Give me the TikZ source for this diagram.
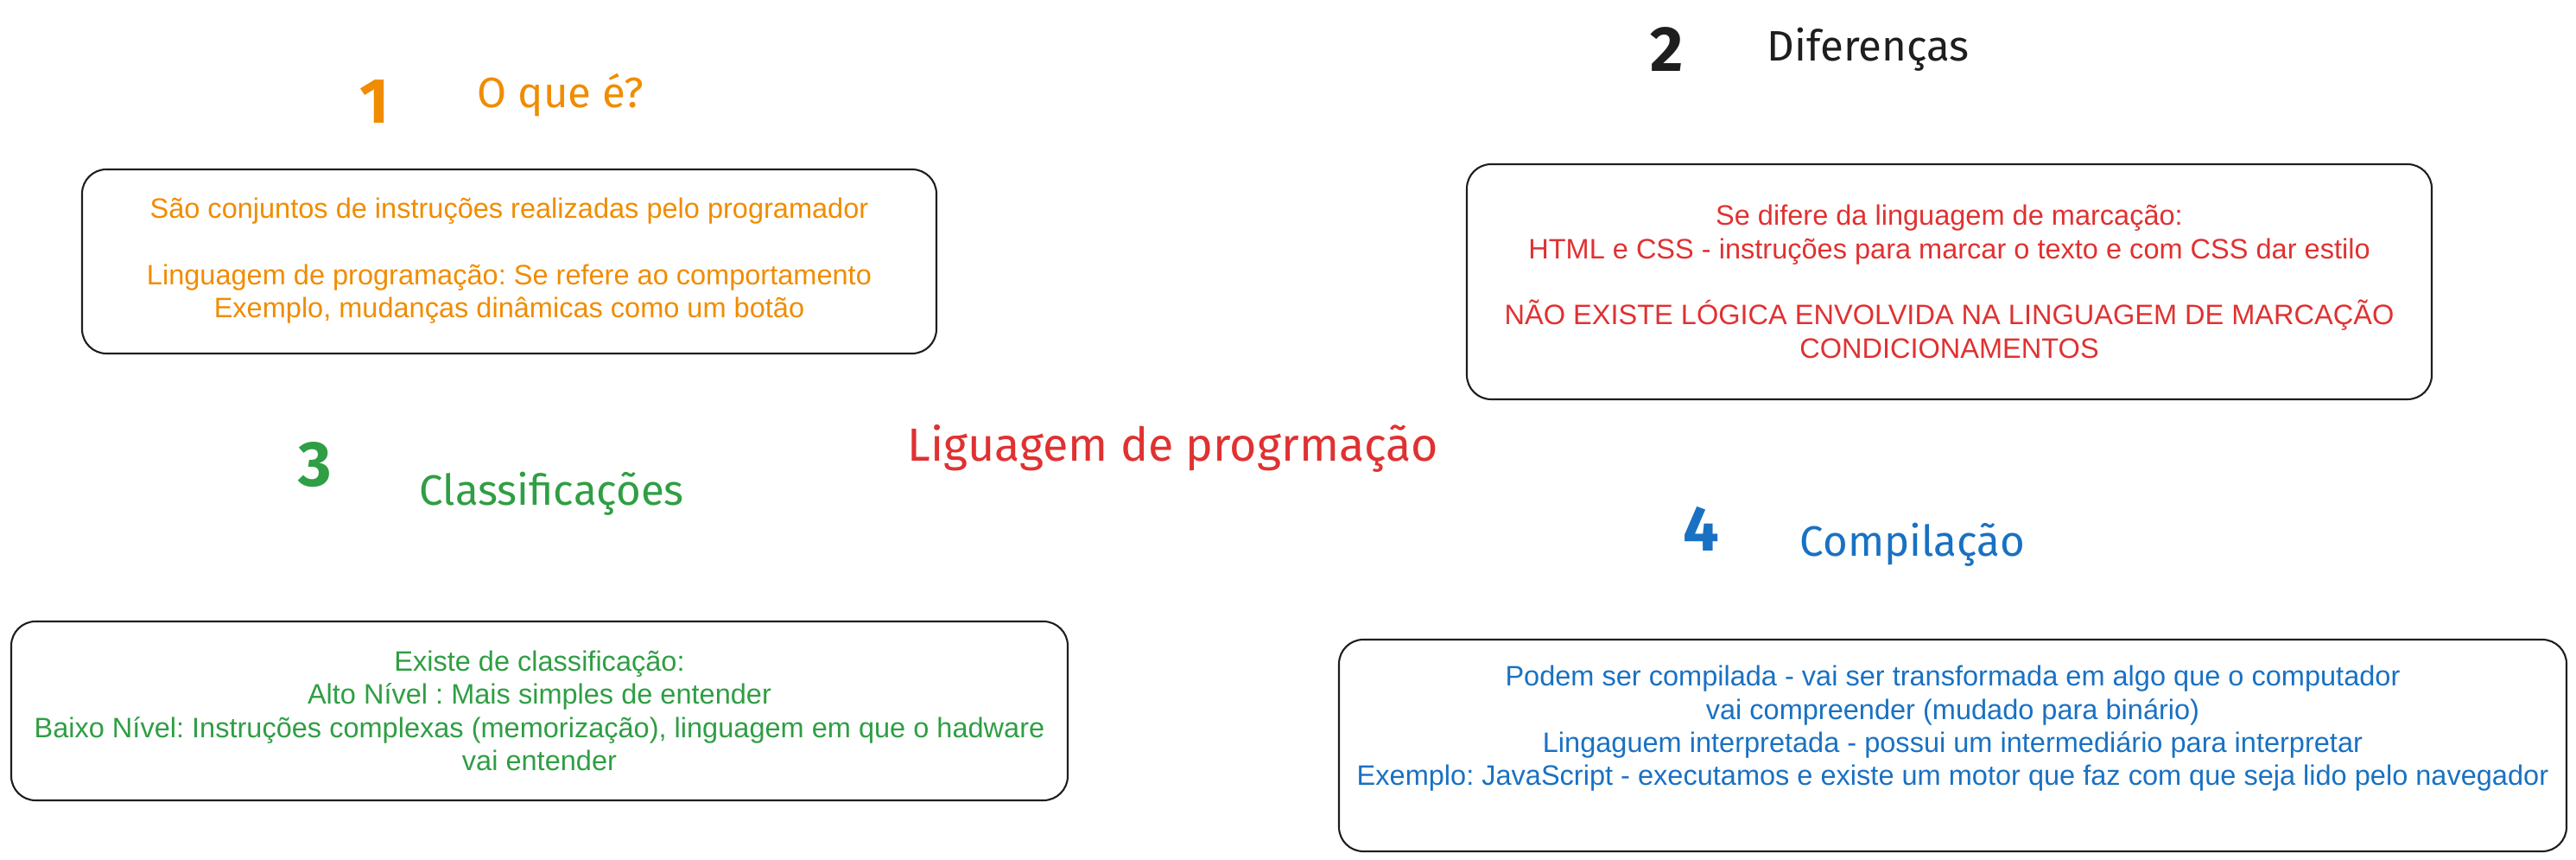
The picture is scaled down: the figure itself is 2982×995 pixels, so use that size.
\documentclass[tikz,border=0pt]{standalone}
\usepackage{fontspec}
\setmainfont{Liberation Sans}
\newfontfamily\handfont{Fira Sans}
\frenchspacing
\definecolor{exorange}{HTML}{F08C00}
\definecolor{exred}{HTML}{E03131}
\definecolor{exgreen}{HTML}{2F9E44}
\definecolor{exblue}{HTML}{1971C2}
\definecolor{exblack}{HTML}{1E1E1E}
\begin{document}
\begin{tikzpicture}[x=0.01cm,y=-0.01cm,
  boxline/.style={draw=exblack,line width=0.6pt,rounded corners=8pt},
  body/.style={align=center,inner sep=0pt,font=\fontsize{9.25}{10.9}\selectfont},
  numlabel/.style={inner sep=0pt,font=\handfont\bfseries\fontsize{21}{24}\selectfont},
  titlelabel/.style={inner sep=0pt,anchor=west,font=\handfont\fontsize{14}{16}\selectfont},
  mainlabel/.style={inner sep=0pt,font=\handfont\fontsize{15.3}{18}\selectfont}]
\useasboundingbox (0,0) rectangle (2982,995);
% section 1
\node[numlabel,text=exorange] (n1) at (434,118) {1};
\node[titlelabel,text=exorange] (t1) at (552,110) {O que é?};
\path[boxline] (95,196) rectangle (1084,409);
\coordinate (b1) at (589.5,302);
\node[body,text=exorange] (x1) at (b1) {São conjuntos de instruções realizadas pelo programador\\[10.9pt]
Linguagem de programação: Se refere ao comportamento\\
Exemplo, mudanças dinâmicas como um botão};
% section 2
\node[numlabel,text=exblack] (n2) at (1930,57) {2};
\node[titlelabel,text=exblack] (t2) at (2045,57) {Diferenças};
\path[boxline] (1698,190) rectangle (2815,462);
\coordinate (b2) at (2256.5,326);
\node[body,text=exred] (x2) at (b2) {Se difere da linguagem de marcação:\\
HTML e CSS - instruções para marcar o texto e com CSS dar estilo\\[10.9pt]
NÃO EXISTE LÓGICA ENVOLVIDA NA LINGUAGEM DE MARCAÇÃO\\
CONDICIONAMENTOS};
% central title
\node[mainlabel,text=exred] (main) at (1358,519) {Liguagem de progrmação};
% section 3
\node[numlabel,text=exgreen] (n3) at (365,538) {3};
\node[titlelabel,text=exgreen] (t3) at (485,571) {Classificações};
\path[boxline] (13,719) rectangle (1236,926);
\coordinate (b3) at (624.5,822.5);
\node[body,text=exgreen] (x3) at (b3) {Existe de classificação:\\
Alto Nível : Mais simples de entender\\
Baixo Nível: Instruções complexas (memorização), linguagem em que o hadware\\
vai entender};
% section 4
\node[numlabel,text=exblue] (n4) at (1969,612) {4};
\node[titlelabel,text=exblue] (t4) at (2083,630) {Compilação};
\path[boxline] (1550,740) rectangle (2971,985);
\coordinate (b4) at (2260.5,843);
\node[body,text=exblue] (x4) at (b4) {Podem ser compilada - vai ser transformada em algo que o computador\\
vai compreender (mudado para binário)\\
Lingaguem interpretada - possui um intermediário para interpretar\\
Exemplo: JavaScript - executamos e existe um motor que faz com que seja lido pelo navegador};
\end{tikzpicture}
\end{document}
